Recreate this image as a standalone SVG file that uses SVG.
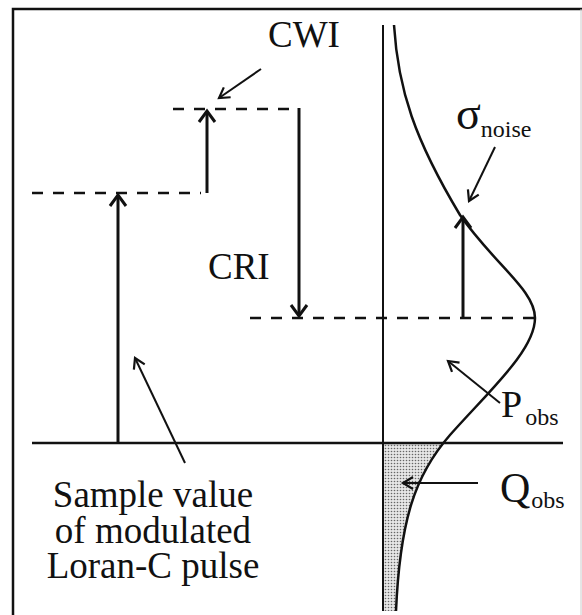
<svg xmlns="http://www.w3.org/2000/svg" width="582" height="615" viewBox="0 0 582 615">
<style>
text{font-family:"Liberation Serif","Times New Roman",serif;fill:#111}
.ln{stroke:#111;fill:none}
.dash{stroke:#111;stroke-width:2.5;stroke-dasharray:11 10;fill:none}
.big{stroke:#111;stroke-width:3;fill:none;marker-end:url(#hb)}
.ptr{stroke:#111;stroke-width:2;fill:none;marker-end:url(#hs)}
.cap{font-size:37px;text-anchor:middle}
</style>
<defs>
<marker id="hb" markerUnits="userSpaceOnUse" markerWidth="30" markerHeight="30" orient="auto" refX="0" refY="0" viewBox="-15 -15 30 30" overflow="visible">
<path d="M-11,-8 L0,0 L-11,8" fill="none" stroke="#111" stroke-width="3"/>
</marker>
<marker id="hs" markerUnits="userSpaceOnUse" markerWidth="30" markerHeight="30" orient="auto" refX="0" refY="0" viewBox="-15 -15 30 30" overflow="visible">
<path d="M-10,-6 L0,0 L-10,6" fill="none" stroke="#111" stroke-width="2.2"/>
</marker>
<pattern id="dots" width="3" height="3" patternUnits="userSpaceOnUse">
<rect width="3" height="3" fill="#e6e6e6"/>
<circle cx="1.5" cy="1.5" r="0.8" fill="#666"/>
</pattern>
<clipPath id="below"><rect x="383" y="443" width="200" height="172"/></clipPath>
</defs>
<rect width="582" height="615" fill="#fff"/>
<g id="frame">
<path class="ln" stroke-width="2.5" d="M13,615 V9 H582"/>
<path d="M581,9 V615" stroke="#ccc" stroke-width="1" fill="none"/>
</g>
<g id="axes">
<path d="M383,435 L450,435 C415,475 400,520 396,611 L383,611 Z" fill="url(#dots)" clip-path="url(#below)"/>
<line class="ln" stroke-width="2" x1="383" y1="25" x2="383" y2="611"/>
<line class="ln" stroke-width="2.5" x1="32" y1="443" x2="563" y2="443"/>
<path id="curve" class="ln" stroke-width="2.5" d="M394,25 C398,90 415,140 460,215 C495,265 535,290 535,318 C535,350 490,390 450,435 C415,475 400,520 396,611"/>
</g>
<g id="levels">
<line class="dash" x1="32" y1="193" x2="201" y2="193"/>
<line class="dash" x1="173" y1="109" x2="298" y2="109"/>
<line class="dash" x1="250" y1="318" x2="535" y2="318"/>
</g>
<g id="connectors">
<line class="big" x1="118" y1="443" x2="118" y2="195"/>
<line class="big" x1="207" y1="193" x2="207" y2="111"/>
<line class="big" x1="299" y1="108" x2="299" y2="316"/>
<line class="big" x1="463" y1="318" x2="463" y2="217"/>
<line class="ptr" x1="261" y1="69" x2="219" y2="98"/>
<line class="ptr" x1="495" y1="147" x2="469" y2="201"/>
<line class="ptr" x1="185" y1="463" x2="135" y2="358"/>
<line class="ptr" x1="500" y1="403" x2="448" y2="361"/>
<line class="ptr" x1="478" y1="483" x2="403" y2="483"/>
</g>
<g id="labels">
<text x="268" y="47" font-size="37">CWI</text>
<text x="208" y="279" font-size="37">CRI</text>
<text x="456" y="129" font-size="46">σ<tspan font-size="24" dy="8" dx="0">noise</tspan></text>
<text x="501" y="417" font-size="38">P<tspan font-size="24" dy="8" dx="3">obs</tspan></text>
<text x="500" y="502" font-size="42">Q<tspan font-size="24" dy="6" dx="1">obs</tspan></text>
<text class="cap" x="153" y="507">Sample value</text>
<text class="cap" x="153" y="543">of modulated</text>
<text class="cap" x="153" y="578">Loran-C pulse</text>
</g>
</svg>
